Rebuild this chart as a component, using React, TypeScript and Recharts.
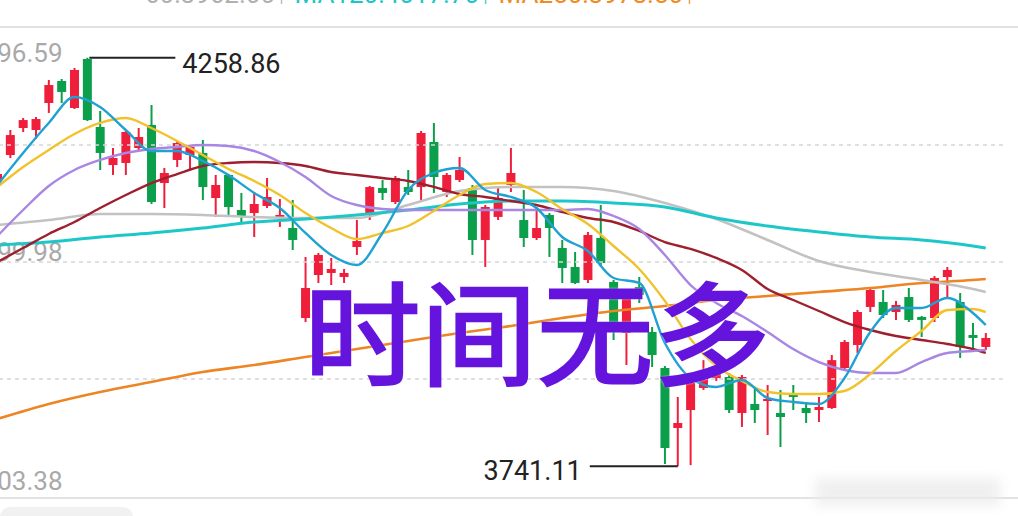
import React from "react";
import { ComposedChart, Bar, Line, XAxis, YAxis, ReferenceLine } from "recharts";

// daily candles, left to right
const opens = [
  4103.9, 4135.6, 4169.8, 4167.3, 4201.5, 4229.4, 4195.2, 4257.3, 4171.1, 4122.9,
  4125.5, 4144.5, 4173.7, 4100.1, 4129.3, 4135.6, 4138.2, 4081.1, 4110.3, 4065.9,
  4062.1, 4071.0, 4055.8, 4043.1, 3929.0, 3983.5, 3986.1, 3981.0, 4019.0, 4062.1,
  4093.8, 4076.0, 4095.0, 4095.0, 4152.1, 4088.7, 4103.9, 4093.8, 4027.9, 4057.1,
  4097.6, 4053.2, 4030.4, 4059.6, 4017.7, 3993.7, 3977.2, 4030.4, 3974.7, 3910.0,
  3968.3, 3911.3, 3865.6, 3789.6, 3812.4, 3840.3, 3852.9, 3854.2, 3808.6, 3820.0,
  3823.8, 3808.6, 3833.9, 3814.9, 3812.4, 3814.9, 3865.6, 3894.8, 3943.0, 3949.3,
  3936.6, 3955.6, 3930.3, 3929.0, 3981.0, 3949.3, 3907.5, 3892.3,
];
const closes = [
  4111.5, 4160.9, 4179.9, 4181.2, 4224.3, 4215.5, 4243.4, 4179.9, 4138.2, 4131.8,
  4164.8, 4158.4, 4076.0, 4112.8, 4150.8, 4145.7, 4095.0, 4097.6, 4069.7, 4057.1,
  4073.5, 4082.4, 4059.6, 4027.9, 3967.0, 4008.9, 3991.1, 3986.1, 4026.6, 4095.0,
  4087.5, 4106.5, 4088.7, 4163.5, 4107.7, 4110.3, 4116.6, 4027.9, 4069.7, 4081.1,
  4112.8, 4030.4, 4043.1, 4043.1, 3992.4, 3973.4, 4034.2, 3998.7, 3917.6, 3962.0,
  3958.2, 3882.1, 3764.2, 3795.9, 3846.6, 3859.3, 3863.1, 3812.4, 3854.2, 3812.4,
  3826.3, 3803.5, 3828.9, 3808.6, 3816.2, 3875.6, 3898.6, 3936.6, 3964.5, 3932.8,
  3945.5, 3926.5, 3926.5, 3979.7, 3989.9, 3892.3, 3903.7, 3903.7,
];
const highs = [
  4119.2, 4167.3, 4182.5, 4183.8, 4230.7, 4232.0, 4245.9, 4258.86, 4191.4, 4144.5,
  4167.3, 4169.8, 4199.0, 4119.2, 4153.4, 4148.3, 4154.6, 4110.3, 4111.5, 4087.5,
  4088.7, 4106.5, 4079.8, 4078.6, 4006.3, 4011.4, 4005.1, 3991.1, 4053.2, 4096.3,
  4103.9, 4109.0, 4116.6, 4166.0, 4176.2, 4112.8, 4133.1, 4097.6, 4072.3, 4093.8,
  4144.5, 4091.3, 4069.7, 4062.1, 4027.9, 4012.7, 4038.0, 4072.3, 3977.2, 3964.5,
  3981.0, 3917.6, 3868.2, 3828.9, 3850.4, 3875.6, 3875.6, 3859.3, 3856.8, 3841.6,
  3844.1, 3837.8, 3844.1, 3822.5, 3828.9, 3882.1, 3901.1, 3939.2, 3968.3, 3964.5,
  3950.6, 3967.0, 3931.6, 3982.2, 3993.7, 3960.7, 3922.7, 3910.0,
];
const lows = [
  4097.6, 4131.8, 4164.8, 4155.9, 4188.9, 4201.5, 4193.9, 4178.7, 4116.6, 4110.3,
  4110.3, 4141.9, 4073.5, 4068.4, 4120.4, 4116.6, 4078.6, 4057.1, 4059.6, 4049.4,
  4031.7, 4068.4, 4044.4, 4015.2, 3923.9, 3973.4, 3970.8, 3973.4, 4008.9, 4053.2,
  4078.6, 4073.5, 4084.9, 4076.0, 4087.5, 4082.4, 4101.4, 4008.9, 3993.7, 4053.2,
  4088.7, 4019.0, 4027.9, 4006.3, 3973.4, 3972.1, 3973.4, 3993.7, 3901.1, 3869.4,
  3948.0, 3866.9, 3743.9, 3741.11, 3742.5, 3837.8, 3849.2, 3808.6, 3790.9, 3795.9,
  3780.7, 3765.5, 3812.4, 3795.9, 3797.2, 3813.7, 3863.1, 3884.7, 3936.6, 3929.0,
  3926.5, 3923.9, 3904.9, 3923.9, 3954.4, 3878.4, 3888.5, 3888.5,
];

// moving averages, read at every 2nd candle
const idxShort = [
  0, 2, 4, 6, 8, 10, 12, 14, 16, 18, 20, 22, 24, 26, 28, 30, 32, 34, 36, 38,
  40, 42, 44, 46, 48, 50, 52, 54, 56, 58, 60, 62, 64, 66, 68, 70, 72, 74, 76, 77,
];
const ma5 = [
  4097.6, 4138.2, 4176.2, 4209.1, 4196.5, 4167.3, 4140.7, 4140.7, 4128.0, 4110.3,
  4087.5, 4068.4, 4036.8, 4008.9, 3996.2, 4036.8, 4091.3, 4112.8, 4119.1, 4091.3,
  4082.4, 4068.4, 4031.7, 4013.9, 3979.7, 3973.4, 3897.3, 3853.0, 3841.6, 3850.4,
  3827.6, 3822.5, 3820.0, 3853.0, 3911.3, 3941.7, 3941.7, 3954.4, 3935.4, 3920.1,
];
const ma10 = [
  4095.1, 4120.4, 4142.0, 4162.2, 4176.2, 4182.5, 4169.8, 4153.4, 4135.6, 4117.9,
  4102.7, 4084.9, 4062.1, 4043.1, 4029.1, 4036.8, 4045.6, 4064.6, 4084.9, 4098.9,
  4100.1, 4088.7, 4067.2, 4048.2, 4020.3, 3991.1, 3950.6, 3902.4, 3868.2, 3849.2,
  3835.2, 3832.7, 3832.7, 3836.5, 3858.0, 3887.2, 3912.5, 3939.2, 3940.4, 3936.6,
];
const ma20 = [
  4032.9, 4065.9, 4096.3, 4116.6, 4129.3, 4138.2, 4143.2, 4145.8, 4148.3, 4147.0,
  4140.7, 4126.7, 4107.7, 4083.7, 4072.2, 4067.2, 4065.9, 4065.9, 4065.9, 4065.9,
  4065.9, 4065.9, 4065.9, 4067.2, 4058.3, 4041.8, 4008.9, 3970.8, 3948.0, 3931.6,
  3911.3, 3889.7, 3873.2, 3863.1, 3859.3, 3859.3, 3873.2, 3884.7, 3887.2, 3888.5,
];
const ma30 = [
  4000.0, 4017.7, 4035.5, 4050.7, 4068.4, 4084.9, 4100.1, 4111.5, 4121.7, 4125.5,
  4126.7, 4125.5, 4121.7, 4114.1, 4110.3, 4106.5, 4102.7, 4095.1, 4086.2, 4082.4,
  4077.3, 4072.2, 4063.4, 4055.8, 4050.7, 4039.3, 4025.3, 4016.5, 4005.1, 3989.9,
  3965.8, 3951.8, 3937.9, 3923.9, 3913.8, 3906.2, 3901.1, 3896.1, 3889.7, 3884.7,
];

// slower averages, read at every 4th candle
const idxLong = [0, 4, 8, 12, 16, 20, 24, 28, 32, 36, 40, 44, 48, 52, 56, 60, 64, 68, 72, 76, 77];
const ma60 = [
  4046.9, 4053.2, 4060.8, 4060.8, 4059.6, 4057.0, 4055.8, 4055.8, 4072.2, 4090.0,
  4095.1, 4095.1, 4090.0, 4074.8, 4054.5, 4027.9, 4001.3, 3987.3, 3977.2, 3965.8, 3962.0,
];
const ma120 = [
  4021.5, 4025.3, 4031.7, 4036.8, 4043.1, 4050.7, 4054.5, 4059.6, 4065.9, 4073.5,
  4077.3, 4077.3, 4074.8, 4069.7, 4055.8, 4045.6, 4038.0, 4031.7, 4027.9, 4020.3, 4017.7,
];
const ma250 = [
  3801.0, 3820.0, 3835.2, 3847.9, 3860.6, 3869.4, 3879.6, 3889.7, 3899.9, 3910.0,
  3918.9, 3929.0, 3937.9, 3944.2, 3951.8, 3956.9, 3962.0, 3967.0, 3973.4, 3977.2, 3978.5,
];

const axisTicks = [3703.38, 3999.98, 4296.59];
const gridLevels = [4148.29, 3999.98, 3851.68];

const UP = "#ef1f3c";
const DOWN = "#0c9f4b";

const pick = (idx: number[], vals: number[], i: number) => {
  const k = idx.indexOf(i);
  return k >= 0 ? vals[k] : null;
};

// one empty slot at the end keeps the plot running past the last candle
const data = Array.from({ length: opens.length + 1 }, (_, i) => ({
  i,
  open: opens[i] ?? null,
  close: closes[i] ?? null,
  high: highs[i] ?? null,
  low: lows[i] ?? null,
  ma5: pick(idxShort, ma5, i),
  ma10: pick(idxShort, ma10, i),
  ma20: pick(idxShort, ma20, i),
  ma30: pick(idxShort, ma30, i),
  ma60: pick(idxLong, ma60, i),
  ma120: pick(idxLong, ma120, i),
  ma250: pick(idxLong, ma250, i),
}));

const hiIdx = highs.indexOf(Math.max(...highs));
const loIdx = lows.indexOf(Math.min(...lows));

function Candle(props: any) {
  const { x, y, width, height, index } = props;
  const d = data[index];
  if (!d || d.open == null || d.high == null) return null;
  const top = Math.min(y, y + height);
  const h = Math.abs(height);
  const ratio = d.high === d.low ? 0 : h / (d.high - d.low);
  const yOf = (v: number) => top + (d.high - v) * ratio;
  const cx = x + width / 2;
  const up = d.close >= d.open;
  const color = up ? UP : DOWN;
  const bTop = yOf(Math.max(d.open, d.close));
  const bBot = yOf(Math.min(d.open, d.close));
  const bw = 9;
  return (
    <g>
      <line x1={cx} x2={cx} y1={top} y2={top + h} stroke={color} strokeWidth={2} />
      <rect x={cx - bw / 2} y={bTop} width={bw} height={Math.max(bBot - bTop, 2)} fill={color} />
      {index === hiIdx && (
        <g>
          <line x1={cx + 2} x2={cx + 88} y1={top} y2={top} stroke="#222" strokeWidth={2} />
          <text x={cx + 95} y={top + 15} fontSize={27} fill="#222" fontFamily="Roboto">
            {d.high.toFixed(2)}
          </text>
        </g>
      )}
      {index === loIdx && (
        <g>
          <line x1={cx - 88} x2={cx} y1={top + h} y2={top + h} stroke="#222" strokeWidth={2} />
          <text x={cx - 96} y={top + h + 14} fontSize={27} fill="#222" fontFamily="Roboto" textAnchor="end">
            {d.low.toFixed(2)}
          </text>
        </g>
      )}
    </g>
  );
}

// price labels sit inside the plot, their first digits scrolled off the left edge
function AxisLabel({ viewBox, value }: any) {
  if (!viewBox) return null;
  let dy = -1;
  if (value > 4200) dy = 34;
  if (value < 3800) dy = -6;
  return (
    <text x={viewBox.x - 23} y={viewBox.y + dy} fontSize={26} fill="#a9a9a9" fontFamily="Roboto">
      {value.toFixed(2)}
    </text>
  );
}

export default function App() {
  return (
    <div
      style={{
        position: "absolute",
        left: 0,
        top: 0,
        width: 1018,
        height: 516,
        overflow: "hidden",
        background: "#fff",
        fontFamily: "Roboto, sans-serif",
      }}
    >
      {/* header strip, mostly scrolled out of view */}
      <div style={{ position: "absolute", top: -21, left: 145, fontSize: 26, whiteSpace: "nowrap" }}>
        <span style={{ color: "#b0b0b0" }}>60:3962.00↑ </span>
        <span style={{ color: "#1cc6c6" }}>MA120:4017.70↑ </span>
        <span style={{ color: "#ef8a25" }}>MA250:3978.50↑</span>
      </div>
      <div style={{ position: "absolute", top: 26, left: 0, width: 1018, height: 2, background: "#e2e2e2" }} />
      <div style={{ position: "absolute", top: 497, left: 0, width: 1018, height: 2, background: "#e2e2e2" }} />
      <div
        style={{
          position: "absolute",
          top: 507,
          left: 0,
          width: 133,
          height: 20,
          borderRadius: 10,
          background: "#f1f1f1",
        }}
      />
      <div
        style={{
          position: "absolute",
          top: 478,
          left: 815,
          width: 185,
          height: 28,
          background: "#ececec",
          filter: "blur(6px)",
          opacity: 0.8,
        }}
      />

      <div style={{ position: "absolute", left: -9.2, top: 0 }}>
        <ComposedChart
          width={1014}
          height={516}
          data={data}
          margin={{ top: 28, right: 0, bottom: 20, left: 0 }}
          style={{ overflow: "visible" }}
        >
          <XAxis dataKey="i" type="category" hide />
          <YAxis domain={[3703.38, 4296.59]} allowDataOverflow hide />
          {gridLevels.map((g) => (
            <ReferenceLine key={g} y={g} stroke="#d6d6d6" strokeDasharray="4 4" strokeWidth={1.5} />
          ))}
          {axisTicks.map((v) => (
            <ReferenceLine
              key={"t" + v}
              y={v}
              stroke="none"
              label={{ content: (p: any) => <AxisLabel viewBox={p.viewBox} value={v} /> }}
            />
          ))}
          <Bar
            dataKey={(d: any) => (d.low == null ? null : [d.low, d.high])}
            barSize={9}
            shape={(p: any) => <Candle {...p} />}
            isAnimationActive={false}
          />
          <Line dataKey="ma250" type="monotone" stroke="#ee8524" strokeWidth={2.6} dot={false} connectNulls isAnimationActive={false} />
          <Line dataKey="ma60" type="monotone" stroke="#c2c2c2" strokeWidth={2.6} dot={false} connectNulls isAnimationActive={false} />
          <Line dataKey="ma120" type="monotone" stroke="#1dc7c8" strokeWidth={3} dot={false} connectNulls isAnimationActive={false} />
          <Line dataKey="ma30" type="monotone" stroke="#9e1f2e" strokeWidth={2.4} dot={false} connectNulls isAnimationActive={false} />
          <Line dataKey="ma20" type="monotone" stroke="#a986e4" strokeWidth={2.4} dot={false} connectNulls isAnimationActive={false} />
          <Line dataKey="ma10" type="monotone" stroke="#f1c22c" strokeWidth={2.4} dot={false} connectNulls isAnimationActive={false} />
          <Line dataKey="ma5" type="monotone" stroke="#1fa2d3" strokeWidth={2.4} dot={false} connectNulls isAnimationActive={false} />
        </ComposedChart>
      </div>

      <div
        style={{
          position: "absolute",
          left: 304,
          top: 272,
          fontSize: 112,
          lineHeight: 1,
          color: "#6414dc",
          fontFamily: "'Noto Sans CJK SC', sans-serif",
          fontWeight: 400,
          whiteSpace: "nowrap",
          WebkitTextStroke: "2.5px #6414dc",
          transform: "scaleX(1.04)",
          transformOrigin: "left top",
          textShadow: "0 0 3px #fff, 0 0 3px #fff",
        }}
      >
        时间无多
      </div>
    </div>
  );
}
